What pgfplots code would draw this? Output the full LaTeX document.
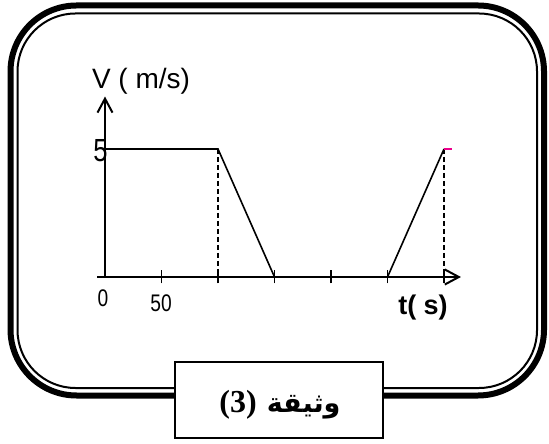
\documentclass[border=0pt]{standalone}
\usepackage{pgfplots}
\pgfplotsset{compat=1.18}
\usetikzlibrary{arrows.meta}
\usepackage{fontspec}
\setmainfont{Liberation Sans}
\newfontfamily\narrowsans[FakeStretch=0.8]{Liberation Sans}
\newfontfamily\serifb{Liberation Serif}
\newfontfamily\arabicfont[Script=Arabic]{DejaVu Sans}
\TeXXeTstate=1

\begin{document}
\begin{tikzpicture}[x=0.5pt,y=0.5pt]
\path[use as bounding box] (0,0) rectangle (549,443);
% double frame
\draw[line width=3pt, rounded corners=33pt] (10.5,437.5) rectangle (544,47.5);
\draw[line width=1pt, rounded corners=29pt] (17.5,429.5) rectangle (537,55);
\coordinate (O) at (105,166);

\begin{axis}[
    at={(O)}, anchor=origin,
    x=0.565pt, y=12.8pt,
    axis lines=middle,
    axis line style={line width=1pt, -{Straight Barb[length=7pt,width=7.5pt,line width=1pt]}},
    xmin=-7, xmax=315, ymin=0, ymax=7.05,
    xtick={50,100,150,200,250,300}, xticklabels={},
    ytick=\empty,
    tick align=center, major tick length=6.5pt,
    tick style={line width=0.75pt, black},
    clip=false,
]
\addplot[line width=0.8pt] coordinates {(0,5) (100,5) (150,0) (250,0) (300,5)};
\addplot[line width=0.75pt, dash pattern=on 2.5pt off 1.5pt] coordinates {(100,5) (100,0)};
\addplot[line width=0.75pt, dash pattern=on 2.5pt off 1.5pt] coordinates {(300,5) (300,0)};
\addplot[magenta, line width=1pt] coordinates {(300,5) (307,5)};
\end{axis}

% labels
\node[font=\fontsize{14}{14}\selectfont, inner sep=0pt] at (141,362) {V ( m/s)};
\node[font=\bfseries\fontsize{13.5}{13.5}\selectfont, inner sep=0pt] at (423,135) {t( s)};
\node[font=\narrowsans\fontsize{16}{16}\selectfont, inner sep=0pt] at (100.5,292) {5};
\node[font=\narrowsans\fontsize{12}{12}\selectfont, inner sep=0pt] at (103,145) {0};
\node[font=\narrowsans\fontsize{12}{12}\selectfont, inner sep=0pt] at (161,140) {50};

% caption box
\draw[line width=0.75pt, fill=white] (175,81) rectangle (383,5);
\node[inner sep=0pt] at (280,38) {{\serifb\bfseries\fontsize{16}{16}\selectfont(3)}\hspace{5pt}{\arabicfont\bfseries\fontsize{13.5}{13.5}\selectfont\beginR وثيقة\endR}};
\end{tikzpicture}
\end{document}
